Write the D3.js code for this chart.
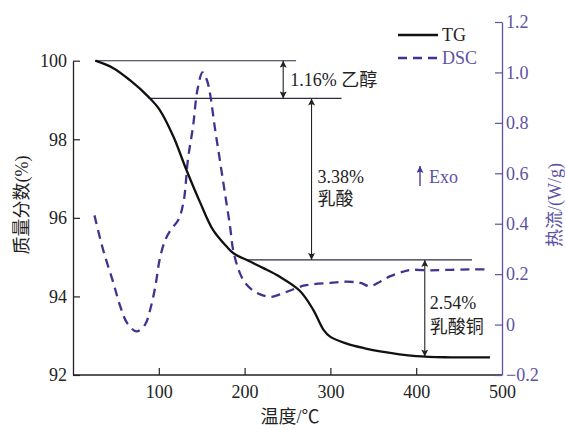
<!DOCTYPE html>
<html>
<head>
<meta charset="utf-8">
<script src="https://cdn.jsdelivr.net/npm/d3@7"></script>
<style>
  body { margin: 0; background: #fff; }
  text { font-family: "Liberation Serif", "Noto Sans CJK SC", serif; }
</style>
</head>
<body>
<svg id="chart" width="565" height="430"></svg>
<script>
// TG curve: temperature (°C), mass fraction (%)
var tgTemp = [26, 47, 66, 88, 101, 117, 132, 148, 163, 179, 187, 205, 222, 241, 264, 280, 292, 300, 319, 340, 358, 400, 440, 486];
var tgMass = [100, 99.81, 99.51, 99.08, 98.75, 98.07, 97.23, 96.4, 95.7, 95.27, 95.1, 94.9, 94.72, 94.5, 94.15, 93.66, 93.15, 92.97, 92.8, 92.68, 92.6, 92.48, 92.45, 92.45];

// DSC curve: temperature (°C), heat flow (W/g)
var dscTemp = [25, 35, 47, 55, 63, 74, 84, 90, 96, 101, 107, 113, 123, 129, 134, 140, 145, 151, 156, 160, 165, 171, 177, 183, 187, 195, 202, 212, 222, 231, 245, 257, 270, 280, 300, 319, 335, 346, 358, 370, 385, 395, 416, 440, 465, 486];
var dscFlow = [0.433, 0.298, 0.166, 0.073, 0.007, -0.027, 0.0, 0.06, 0.152, 0.258, 0.331, 0.371, 0.417, 0.49, 0.656, 0.788, 0.93, 1.0, 0.97, 0.91, 0.788, 0.656, 0.523, 0.39, 0.29, 0.2, 0.16, 0.13, 0.115, 0.11, 0.125, 0.14, 0.155, 0.16, 0.165, 0.17, 0.165, 0.152, 0.17, 0.192, 0.21, 0.217, 0.215, 0.217, 0.219, 0.219];

var xTicks = [100, 200, 300, 400, 500];
var leftTicks = [92, 94, 96, 98, 100];
var rightTicks = [-0.2, 0, 0.2, 0.4, 0.6, 0.8, 1.0, 1.2];

// mass-loss annotation steps: level (%), line start/end (°C), arrow (°C)
var levels = [100, 99.04, 94.93, 92.47];
var lineFrom = [26, 88, 203];
var lineTo = [260, 313, 465];
var arrowAt = [245, 278, 410];
var stepLabels = [["1.16% 乙醇"], ["3.38%", "乳酸"], ["2.54%", "乳酸铜"]];

var purple = "#3d3590";
var axisPurple = "#5d53a3";

var svg = d3.select("#chart");

var x = d3.scaleLinear().domain([0, 500]).range([73, 502]);
var yL = d3.scaleLinear().domain([92, 100]).range([375, 60.7]);
var yR = d3.scaleLinear().domain([-0.2, 1.2]).range([375, 22]);

var defs = svg.append("defs");
function marker(id, color) {
  defs.append("marker")
    .attr("id", id)
    .attr("viewBox", "0 0 10 10")
    .attr("refX", 10).attr("refY", 5)
    .attr("markerWidth", 9).attr("markerHeight", 7)
    .attr("markerUnits", "userSpaceOnUse")
    .attr("orient", "auto-start-reverse")
    .append("path")
    .attr("d", "M0,0 L10,5 L0,10 L2,5 Z")
    .attr("fill", color);
}
marker("ah", "#222");
marker("ahp", purple);

// axes
var bottom = svg.append("g")
  .attr("transform", "translate(0,375)")
  .call(d3.axisBottom(x).tickValues(xTicks).tickSizeInner(-7).tickSizeOuter(0).tickPadding(10));
bottom.select(".domain").attr("d", "M73,0H502");

var left = svg.append("g")
  .attr("transform", "translate(73,0)")
  .call(d3.axisLeft(yL).tickValues(leftTicks).tickSizeInner(-7).tickSizeOuter(0).tickPadding(6));

var right = svg.append("g")
  .attr("transform", "translate(502,0)")
  .call(d3.axisRight(yR).tickValues(rightTicks).tickSizeInner(-7).tickSizeOuter(0).tickPadding(4)
    .tickFormat(function (d) { return d === 0 ? "0" : d3.format(".1f")(d).replace("-", "\u2212"); }));

[bottom, left].forEach(function (g) {
  g.select(".domain").attr("stroke", "#222").attr("stroke-width", 1.3);
  g.selectAll(".tick line").attr("stroke", "#222").attr("stroke-width", 1.2);
  g.selectAll(".tick text").attr("fill", "#222").style("font-size", "18px");
});
right.select(".domain").attr("stroke", axisPurple).attr("stroke-width", 1.3);
right.selectAll(".tick line").attr("stroke", axisPurple).attr("stroke-width", 1.2);
right.selectAll(".tick text").attr("fill", axisPurple).style("font-size", "18px");
bottom.select(".tick:last-of-type line").remove();

// axis titles
svg.append("text")
  .attr("transform", "translate(22,205) rotate(-90)")
  .attr("text-anchor", "middle").attr("dy", "0.35em")
  .style("font-size", "18px").attr("fill", "#222")
  .text("质量分数(%)");
svg.append("text")
  .attr("transform", "translate(555,205) rotate(-90)")
  .attr("text-anchor", "middle").attr("dy", "0.35em")
  .style("font-size", "18px").attr("fill", axisPurple)
  .text("热流/(W/g)");
svg.append("text")
  .attr("x", 290).attr("y", 417).attr("dy", "0.35em")
  .attr("text-anchor", "middle")
  .style("font-size", "18px").attr("fill", "#222")
  .text("温度/℃");

// annotation lines
for (var i = 0; i < 3; i++) {
  svg.append("line")
    .attr("x1", x(lineFrom[i])).attr("x2", x(lineTo[i]))
    .attr("y1", yL(levels[i])).attr("y2", yL(levels[i]))
    .attr("stroke", "#2c2c44").attr("stroke-width", 1.1);
  svg.append("line")
    .attr("x1", x(arrowAt[i])).attr("x2", x(arrowAt[i]))
    .attr("y1", yL(levels[i])).attr("y2", yL(levels[i + 1]))
    .attr("stroke", "#222").attr("stroke-width", 1.1)
    .attr("marker-start", "url(#ah)").attr("marker-end", "url(#ah)");
}

svg.append("text").attr("x", x(arrowAt[0]) + 7).attr("y", 80).attr("dy", "0.35em")
  .style("font-size", "18px").attr("fill", "#222").text(stepLabels[0][0]);
svg.append("text").attr("x", x(arrowAt[1]) + 6).attr("y", 177).attr("dy", "0.35em")
  .style("font-size", "18px").attr("fill", "#222").text(stepLabels[1][0]);
svg.append("text").attr("x", x(arrowAt[1]) + 6).attr("y", 199).attr("dy", "0.35em")
  .style("font-size", "18px").attr("fill", "#222").text(stepLabels[1][1]);
svg.append("text").attr("x", x(arrowAt[2]) + 5).attr("y", 303).attr("dy", "0.35em")
  .style("font-size", "18px").attr("fill", "#222").text(stepLabels[2][0]);
svg.append("text").attr("x", x(arrowAt[2]) + 5).attr("y", 327).attr("dy", "0.35em")
  .style("font-size", "18px").attr("fill", "#222").text(stepLabels[2][1]);

// curves
var tgData = tgTemp.map(function (t, k) { return [t, tgMass[k]]; });
var dscData = dscTemp.map(function (t, k) { return [t, dscFlow[k]]; });

svg.append("path")
  .datum(dscData)
  .attr("fill", "none").attr("stroke", purple).attr("stroke-width", 2.3)
  .attr("stroke-dasharray", "9,6")
  .attr("d", d3.line().x(function (d) { return x(d[0]); }).y(function (d) { return yR(d[1]); })
    .curve(d3.curveCatmullRom.alpha(0.5)));

svg.append("path")
  .datum(tgData)
  .attr("fill", "none").attr("stroke", "#111").attr("stroke-width", 2.3)
  .attr("d", d3.line().x(function (d) { return x(d[0]); }).y(function (d) { return yL(d[1]); })
    .curve(d3.curveCatmullRom.alpha(0.5)));

// legend
svg.append("line").attr("x1", 398).attr("x2", 438).attr("y1", 35).attr("y2", 35)
  .attr("stroke", "#111").attr("stroke-width", 2.3);
svg.append("text").attr("x", 442).attr("y", 35).attr("dy", "0.35em")
  .style("font-size", "18px").attr("fill", "#222").text("TG");
svg.append("line").attr("x1", 398).attr("x2", 438).attr("y1", 58).attr("y2", 58)
  .attr("stroke", purple).attr("stroke-width", 2.3).attr("stroke-dasharray", "9,6");
svg.append("text").attr("x", 442).attr("y", 58).attr("dy", "0.35em")
  .style("font-size", "18px").attr("fill", axisPurple).text("DSC");

// Exo marker
svg.append("line").attr("x1", 420).attr("x2", 420).attr("y1", 186).attr("y2", 166)
  .attr("stroke", purple).attr("stroke-width", 1.3).attr("marker-end", "url(#ahp)");
svg.append("text").attr("x", 429).attr("y", 177).attr("dy", "0.35em")
  .style("font-size", "18px").attr("fill", axisPurple).text("Exo");
</script>
</body>
</html>
